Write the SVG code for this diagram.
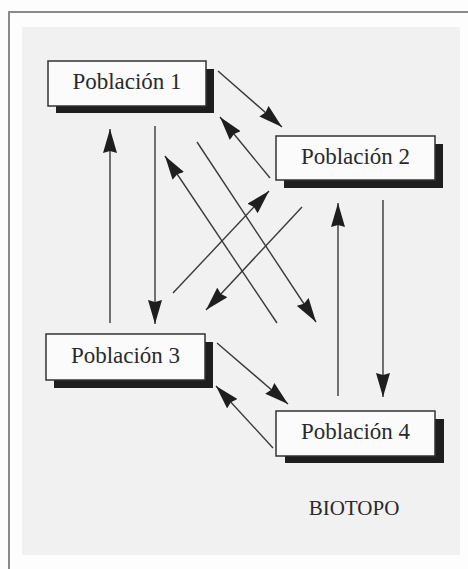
<svg xmlns="http://www.w3.org/2000/svg" width="468" height="569" viewBox="0 0 468 569">
  <defs>
    <style>
      .frame { fill: none; stroke: #8a8a8a; stroke-width: 2; }
      .box { fill: #fbfbfb; stroke: #333; stroke-width: 1.5; }
      .shadow { fill: #1e1e1e; }
      .label { font-size: 23px; fill: #2a2a2a; text-anchor: middle; }
      .conn line { stroke: #3a3a3a; stroke-width: 1.4; marker-end: url(#arrow); }
    </style>
    <marker id="arrow" markerUnits="userSpaceOnUse" markerWidth="24" markerHeight="14" refX="24" refY="7" orient="auto">
      <path d="M0,0 L24,7 L0,14 L2,7 z" fill="#1e1e1e"/>
    </marker>
  </defs>
  <rect x="0" y="0" width="468" height="569" fill="#fdfdfd"/>
  <rect x="22" y="27" width="438" height="528" fill="#f1f1f1"/>
  <path class="frame" d="M9,569 L9,12 L468,12"/>

  <g id="conectores" class="conn">
    <line x1="218" y1="71" x2="282" y2="127"/>
    <line x1="270" y1="178" x2="220" y2="117"/>
    <line x1="110" y1="323" x2="110" y2="129"/>
    <line x1="155" y1="126" x2="155" y2="324"/>
    <line x1="277" y1="323" x2="165" y2="156"/>
    <line x1="197" y1="142" x2="316" y2="322"/>
    <line x1="173" y1="293" x2="269" y2="191"/>
    <line x1="302" y1="207" x2="206" y2="310"/>
    <line x1="338" y1="396" x2="338" y2="203"/>
    <line x1="383" y1="200" x2="383" y2="397"/>
    <line x1="217" y1="343" x2="288" y2="404"/>
    <line x1="273" y1="448" x2="216" y2="386"/>
  </g>

  <g id="poblacion1">
    <rect class="shadow" x="56" y="69" width="158" height="44"/>
    <rect class="box" x="48" y="61" width="158" height="45"/>
    <text class="label" font-family="'Liberation Serif', 'DejaVu Serif', serif" x="127" y="89">Población 1</text>
  </g>
  <g id="poblacion2">
    <rect class="shadow" x="284" y="144" width="159" height="44"/>
    <rect class="box" x="276" y="136" width="159" height="44"/>
    <text class="label" font-family="'Liberation Serif', 'DejaVu Serif', serif" x="355.5" y="164">Población 2</text>
  </g>
  <g id="poblacion3">
    <rect class="shadow" x="54" y="342" width="159" height="46"/>
    <rect class="box" x="46" y="334" width="159" height="46"/>
    <text class="label" font-family="'Liberation Serif', 'DejaVu Serif', serif" x="125.5" y="363">Población 3</text>
  </g>
  <g id="poblacion4">
    <rect class="shadow" x="285" y="419" width="159" height="44"/>
    <rect class="box" x="276" y="411" width="159" height="45"/>
    <text class="label" font-family="'Liberation Serif', 'DejaVu Serif', serif" x="355.5" y="439">Población 4</text>
  </g>
  <g id="biotopo">
    <text class="label" font-family="'Liberation Serif', 'DejaVu Serif', serif" x="354" y="515" style="font-size:21px">BIOTOPO</text>
  </g>
</svg>
